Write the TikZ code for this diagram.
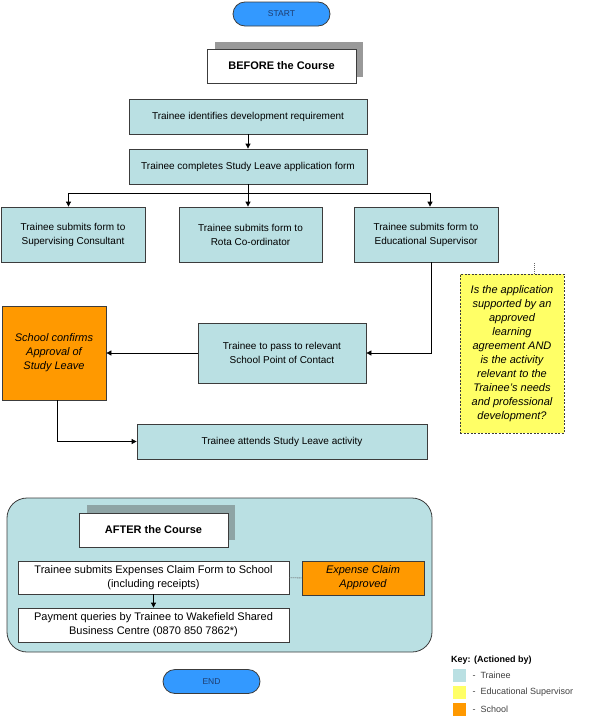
\documentclass[tikz,border=0pt]{standalone}
\usepackage{fontspec}
\setmainfont{Liberation Sans}
\usetikzlibrary{arrows.meta}
\definecolor{traineeblue}{RGB}{186,224,227}
\definecolor{schoolorange}{RGB}{255,153,0}
\definecolor{supyellow}{RGB}{255,255,102}
\definecolor{pillblue}{RGB}{51,153,255}
\definecolor{pilltext}{RGB}{30,60,110}
\definecolor{edgegray}{RGB}{60,60,60}
\begin{document}
\begin{tikzpicture}[x=1pt, y=-1pt,
  box/.style={draw=edgegray, line width=0.8pt, inner sep=0pt, align=center,
    font=\fontsize{10}{14}\selectfont},
  trainee/.style={box, fill=traineeblue},
  school/.style={box, fill=schoolorange, font=\fontsize{11}{14}\selectfont\itshape},
  supervisor/.style={box, fill=supyellow, dash pattern=on 2pt off 1.5pt, font=\fontsize{11}{14}\selectfont\itshape},
  plain/.style={box, fill=white, font=\fontsize{11}{14}\selectfont},
  heading/.style={box, fill=white, font=\fontsize{11}{13}\selectfont\bfseries},
  pill/.style={draw=edgegray, line width=0.8pt, fill=pillblue, rounded corners=12pt,
    minimum width=97pt, minimum height=24pt, inner sep=0pt,
    font=\fontsize{8.5}{10}\selectfont, text=pilltext},
  flow/.style={draw=black, line width=0.8pt, -{Triangle[length=5pt,width=5pt]}},
  link/.style={draw=black!60, line width=0.8pt, dash pattern=on 1pt off 1pt},
  swatch/.style={minimum width=13pt, minimum height=13pt, inner sep=0pt},
  keytext/.style={font=\fontsize{9}{10}\selectfont, text=black!75, anchor=west}]
\useasboundingbox (0,0) rectangle (594,720);

% Start
\node[pill] (start) at (281.5,14) {START};

% Before heading
\fill[black!40] (215,42) rectangle (363,77);
\node[heading, minimum width=149pt, minimum height=34pt] (before) at (281.5,66) {BEFORE the Course};

% Application
\node[trainee, minimum width=238pt, minimum height=35pt] (ident) at (248,116.5) {Trainee identifies development requirement};
\node[trainee, minimum width=238pt, minimum height=35pt] (complete) at (248,166.5) {Trainee completes Study Leave application form};

% Submission
\node[trainee, minimum width=144pt, minimum height=55pt] (subcons) at (73,234.5) {Trainee submits form to\\Supervising Consultant};
\node[trainee, minimum width=143pt, minimum height=55pt] (subrota) at (250.5,234.5) {Trainee submits form to\\Rota Co-ordinator};
\node[trainee, minimum width=144pt, minimum height=55pt] (subes) at (426,234.5) {Trainee submits form to\\Educational Supervisor};

% Approval
\node[supervisor, minimum width=104pt, minimum height=159pt] (question) at (512,353.5) {Is the application\\supported by an\\approved\\learning\\agreement AND\\is the activity\\relevant to the\\Trainee's needs\\and professional\\development?};
\node[school, minimum width=104pt, minimum height=94pt] (approve) at (54,353) {School confirms\\Approval of\\Study Leave};
\node[trainee, minimum width=168pt, minimum height=60pt] (pass) at (282,353) {Trainee to pass to relevant\\School Point of Contact};
\node[trainee, minimum width=290pt, minimum height=35pt] (attend) at (282,441.5) {Trainee attends Study Leave activity};

% Connectors
\draw[flow] (ident) -- (complete);
\draw[line width=0.8pt] (complete.south) -- ++(0,9) coordinate (split);
\draw[flow] (split) -| ([xshift=-4.5pt]subcons.north);
\draw[flow] (split) -- (split |- subrota.north);
\draw[flow] (split) -| ([xshift=4pt]subes.north);
\draw[flow] ([xshift=5pt]subes.south) |- (pass.east);
\draw[link] ([xshift=22pt]question.north) -- ([xshift=22pt]question.north |- subes.south);
\draw[flow] (pass) -- (approve);
\draw[flow] ([xshift=3pt]approve.south) |- (attend.west);

% After the course
\draw[draw=edgegray, line width=0.8pt, fill=traineeblue, rounded corners=20pt] (7,498) rectangle (432,652);
\fill[black!20!traineeblue!70!gray] (87,505) rectangle (235,540);
\node[heading, minimum width=149pt, minimum height=34pt] (after) at (153.5,530) {AFTER the Course};
\node[plain, minimum width=271pt, minimum height=33pt] (claim) at (153.5,577.5) {Trainee submits Expenses Claim Form to School\\(including receipts)};
\node[school, minimum width=122pt, minimum height=34pt] (claimok) at (363,578) {Expense Claim\\Approved};
\node[plain, minimum width=271pt, minimum height=34pt] (query) at (153.5,625) {Payment queries by Trainee to Wakefield Shared\\Business Centre (0870 850 7862*)};
\draw[flow] (claim) -- (query);
\draw[link] (claim) -- (claimok);

% End
\node[pill] (finish) at (211.5,681.5) {END};

% Key
\node[anchor=west, inner sep=0pt, font=\fontsize{9}{10}\selectfont\bfseries] (key) at (451,660) {Key: (Actioned by)};
\node[swatch, fill=traineeblue] (keyt) at (459.5,675.5) {};
\node[swatch, fill=supyellow] (keys) at (459.5,692.5) {};
\node[swatch, fill=schoolorange] (keyo) at (459.5,709.5) {};
\node[keytext] at (469,675.5) {-\ \ Trainee};
\node[keytext] at (469,692.5) {-\ \ Educational Supervisor};
\node[keytext] at (469,709.5) {-\ \ School};
\end{tikzpicture}
\end{document}
